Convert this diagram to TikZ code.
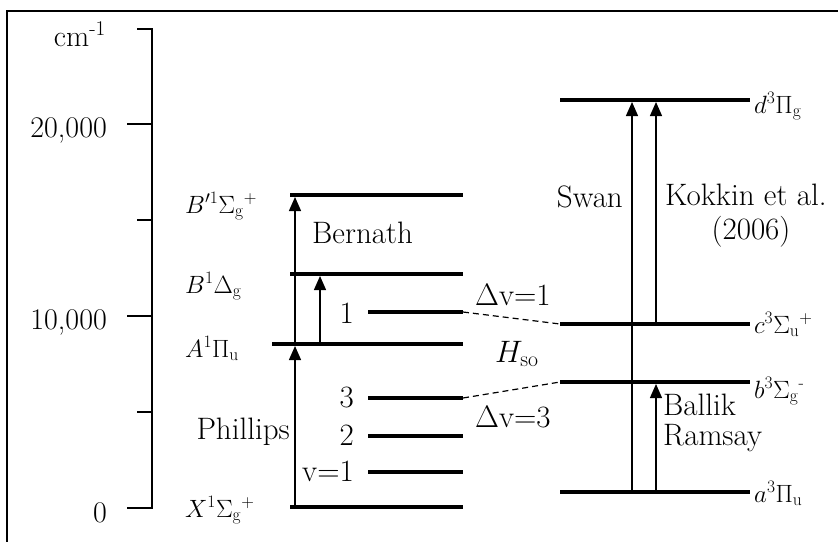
\RequirePackage{fix-cm}
\documentclass[tikz,border=0pt]{standalone}
\usepackage{amsmath}
\usetikzlibrary{arrows.meta}
\begin{document}
\begin{tikzpicture}[x=1pt,y=-1pt,
  level/.style={line width=3.6pt},
  axisline/.style={line width=1.3pt},
  trans/.style={line width=1.3pt,-{Triangle[width=12pt,length=14pt]}},
  dashline/.style={line width=1.2pt,dash pattern=on 6pt off 4pt},
  statelbl/.style={font=\fontsize{25}{29}\selectfont,inner sep=0pt},
  annot/.style={font=\fontsize{31}{35}\selectfont,inner sep=0pt},
  axislbl/.style={font=\fontsize{30}{34}\selectfont,inner sep=0pt}]
\useasboundingbox (0,0) rectangle (838,542);
% frame (clipped at right and bottom)
\coordinate (fr1) at (838,11); \coordinate (fr2) at (7,11); \coordinate (fr3) at (7,542);
\draw[line width=1.3pt] (fr1) -- (fr2) -- (fr3);
% axis
\coordinate (ax-top) at (152,29); \coordinate (ax-bot) at (152,508);
\draw[axisline] (137,29) -- (ax-top) -- (ax-bot) -- (127,508);
\draw[axisline] (127,124) -- (152,124);
\draw[axisline] (137,220) -- (152,220);
\draw[axisline] (127,316) -- (152,316);
\draw[axisline] (137,412) -- (152,412);
\node[axislbl,anchor=base east] (cm) at (106,46) {cm\textsuperscript{-1}};
\node[axislbl,anchor=base east] (t20) at (107,137) {20,000};
\node[axislbl,anchor=base east] (t10) at (107,329) {10,000};
\node[axislbl,anchor=base east] (t0) at (107,522) {0};
% left levels
\coordinate (Bp-l) at (290,195); \coordinate (Bp-r) at (463,195);
\coordinate (BD-l) at (290,274); \coordinate (BD-r) at (463,274);
\coordinate (A1-l) at (368,312); \coordinate (A1-r) at (463,312);
\coordinate (A-l) at (272,344);  \coordinate (A-r) at (463,344);
\coordinate (X3-l) at (368,398); \coordinate (X3-r) at (463,398);
\coordinate (X2-l) at (368,436); \coordinate (X2-r) at (463,436);
\coordinate (X1-l) at (368,472); \coordinate (X1-r) at (463,472);
\coordinate (X-l) at (290,507);  \coordinate (X-r) at (463,507);
\foreach \n in {Bp,BD,A1,A,X3,X2,X1,X} \draw[level] (\n-l) -- (\n-r);
% right levels
\coordinate (d-l) at (560,100); \coordinate (d-r) at (750,100);
\coordinate (c-l) at (560,324); \coordinate (c-r) at (750,324);
\coordinate (b-l) at (560,382); \coordinate (b-r) at (750,382);
\coordinate (a-l) at (560,492); \coordinate (a-r) at (750,492);
\foreach \n in {d,c,b,a} \draw[level] (\n-l) -- (\n-r);
% dashed couplings
\draw[dashline] (A1-r) -- (c-l);
\draw[dashline] (X3-r) -- (b-l);
% transitions
\coordinate (bern-s) at (295,344); \coordinate (bern-e) at (295,197);
\coordinate (bd-s) at (320,344);   \coordinate (bd-e) at (320,276);
\coordinate (ph-s) at (295,507);   \coordinate (ph-e) at (295,346);
\coordinate (sw-s) at (632,492);   \coordinate (sw-e) at (632,102);
\coordinate (kk-s) at (656,324);   \coordinate (kk-e) at (656,102);
\coordinate (br-s) at (656,492);   \coordinate (br-e) at (656,384);
\draw[trans] (bern-s) -- (bern-e);
\draw[trans] (bd-s) -- (bd-e);
\draw[trans] (ph-s) -- (ph-e);
\draw[trans] (sw-s) -- (sw-e);
\draw[trans] (kk-s) -- (kk-e);
\draw[trans] (br-s) -- (br-e);
% state labels
\node[statelbl,anchor=base west] (lBp) at (185,213) {$B'^{1}\Sigma_{\mathrm{g}}{}^{+}$};
\node[statelbl,anchor=base west] (lBD) at (185,293) {$B^{1}\Delta_{\mathrm{g}}$};
\node[statelbl,anchor=base west] (lA) at (185,357) {$A^{1}\Pi_{\mathrm{u}}$};
\node[statelbl,anchor=base west] (lX) at (185,517) {$X^{1}\Sigma_{\mathrm{g}}{}^{+}$};
\node[statelbl,anchor=base west] (ld) at (754,113) {$d^{3}\Pi_{\mathrm{g}}$};
\node[statelbl,anchor=base west] (lc) at (754,333) {$c^{3}\Sigma_{\mathrm{u}}{}^{+}$};
\node[statelbl,anchor=base west] (lb) at (754,398) {$b^{3}\Sigma_{\mathrm{g}}{}^{\text{-}}$};
\node[statelbl,anchor=base west] (la) at (754,502) {$a^{3}\Pi_{\mathrm{u}}$};
% vibrational labels
\node[annot,anchor=base east] (v1a) at (354,323) {1};
\node[annot,anchor=base east] (v3) at (354,407) {3};
\node[annot,anchor=base east] (v2) at (354,445) {2};
\node[annot,anchor=base east] (v1) at (354,481) {v=1};
% annotations
\node[annot,anchor=base west] (bernath) at (312,243) {Bernath};
\node[annot,anchor=base east] (phillips) at (290,439) {Phillips};
\node[annot,anchor=base east] (swan) at (623,207) {Swan};
\node[annot,anchor=base west] (kokkin) at (665,205) {Kokkin et al.};
\node[annot,anchor=base] (kyear) at (751,239) {(2006)};
\node[annot,anchor=base west] (ballik) at (663,415) {Ballik};
\node[annot,anchor=base west] (ramsay) at (663,445) {Ramsay};
\node[annot,anchor=base west] (dv1) at (475,305) {$\Delta$v=1};
\node[annot,anchor=base west] (hso) at (495,362) {$H_{\mathrm{so}}$};
\node[annot,anchor=base west] (dv3) at (475,427) {$\Delta$v=3};
\end{tikzpicture}
\end{document}
